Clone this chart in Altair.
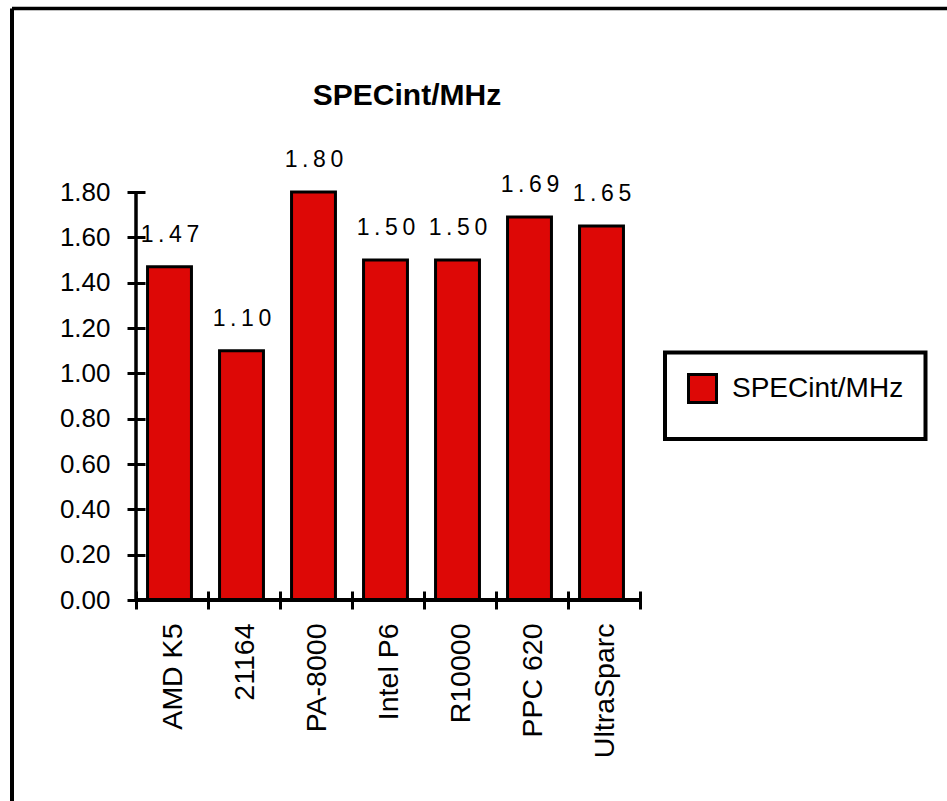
import altair as alt
import pandas as pd

# Processor names and their SPECint per MHz
processors = ["AMD K5", "21164", "PA-8000", "Intel P6", "R10000", "PPC 620", "UltraSparc"]
specint_per_mhz = [1.47, 1.10, 1.80, 1.50, 1.50, 1.69, 1.65]
series_name = "SPECint/MHz"
chart_title = "SPECint/MHz"
y_tick_values = [0.0, 0.2, 0.4, 0.6, 0.8, 1.0, 1.2, 1.4, 1.6, 1.8]

df = pd.DataFrame({"processor": processors, "value": specint_per_mhz, "series": series_name})
one_row = pd.DataFrame({"t": [chart_title]})

FONT = "Liberation Sans"
RED = "#dd0806"
W, H = 504, 408
LEFT, TOP = 136, 192
PAGE_W, PAGE_H = 947, 801

x_enc = alt.X(
    "processor:N",
    sort=processors,
    scale=alt.Scale(paddingInner=0, paddingOuter=0),
    axis=alt.Axis(
        title=None,
        tickBand="extent",
        domain=False,
        offset=-9,
        tickSize=18,
        tickWidth=3,
        tickColor="black",
        labelAngle=270,
        labelAlign="right",
        labelBaseline="middle",
        labelFont=FONT,
        labelFontSize=28.5,
        labelColor="black",
        labelPadding=14,
        labelLimit=300,
    ),
)

y_enc = alt.Y(
    "value:Q",
    scale=alt.Scale(domain=[0, 1.8], nice=False, zero=True),
    axis=alt.Axis(
        title=None,
        values=y_tick_values,
        format=".2f",
        domain=False,
        grid=False,
        offset=-9,
        tickSize=18,
        tickWidth=3,
        tickColor="black",
        labelFont=FONT,
        labelFontSize=26,
        labelColor="black",
        labelPadding=17,
        labelFlush=False,
    ),
)

bars = alt.Chart(df).mark_bar(
    width={"band": 0.61}, stroke="black", strokeWidth=3, xOffset=-2.5
).encode(
    x=x_enc,
    y=y_enc,
    color=alt.Color(
        "series:N",
        scale=alt.Scale(domain=[series_name], range=[RED]),
        legend=alt.Legend(
            title=None,
            orient="none",
            legendX=551,
            legendY=181,
            padding=0,
            symbolType="square",
            symbolSize=784,
            symbolStrokeColor="black",
            symbolStrokeWidth=3,
            labelFont=FONT,
            labelFontSize=28,
            labelColor="black",
            labelOffset=14,
            labelLimit=400,
        ),
    ),
)

# Value labels above each bar, spaced out with thin spaces
labels = alt.Chart(df).transform_calculate(
    label="join(split(format(datum.value, '.2f'), ''), '\u2009')"
).mark_text(
    dy=-25, dx=-2, baseline="alphabetic", align="center",
    font=FONT, fontSize=23, color="black"
).encode(x=x_enc, y=y_enc, text="label:N")

# Axis lines
x_line = alt.Chart(one_row).mark_rule(color="black", strokeWidth=4).encode(
    x=alt.value(0), x2=alt.value(W), y=alt.value(H)
)
y_line = alt.Chart(one_row).mark_rule(color="black", strokeWidth=3.5).encode(
    x=alt.value(0), y=alt.value(0), y2=alt.value(H)
)

# Legend frame
legend_box = alt.Chart(one_row).mark_rect(
    fill="white", stroke="black", strokeWidth=4
).encode(
    x=alt.value(529), x2=alt.value(789.5), y=alt.value(160.5), y2=alt.value(247)
)

# Outer chart-area frame (top and left edges)
frame_top = alt.Chart(one_row).mark_rule(color="black", strokeWidth=3.5).encode(
    x=alt.value(12 - LEFT), x2=alt.value(PAGE_W - LEFT + 10), y=alt.value(8.5 - TOP)
)
frame_left = alt.Chart(one_row).mark_rule(color="black", strokeWidth=4).encode(
    x=alt.value(12 - LEFT), y=alt.value(8.5 - TOP), y2=alt.value(PAGE_H - TOP + 10)
)

title = alt.Chart(one_row).mark_text(
    font=FONT, fontSize=30, fontWeight="bold", align="center",
    baseline="alphabetic", color="black"
).encode(x=alt.value(407 - LEFT), y=alt.value(105 - TOP), text="t:N")

chart = alt.layer(
    frame_top, frame_left, legend_box, bars, labels, x_line, y_line, title
).properties(
    width=W,
    height=H,
    autosize=alt.AutoSizeParams(type="none"),
    padding={"left": LEFT, "top": TOP, "right": PAGE_W - LEFT - W, "bottom": PAGE_H - TOP - H},
    background="white",
).configure_view(stroke=None)

chart.save("out.html", embed_options={"renderer": "svg", "actions": False})
